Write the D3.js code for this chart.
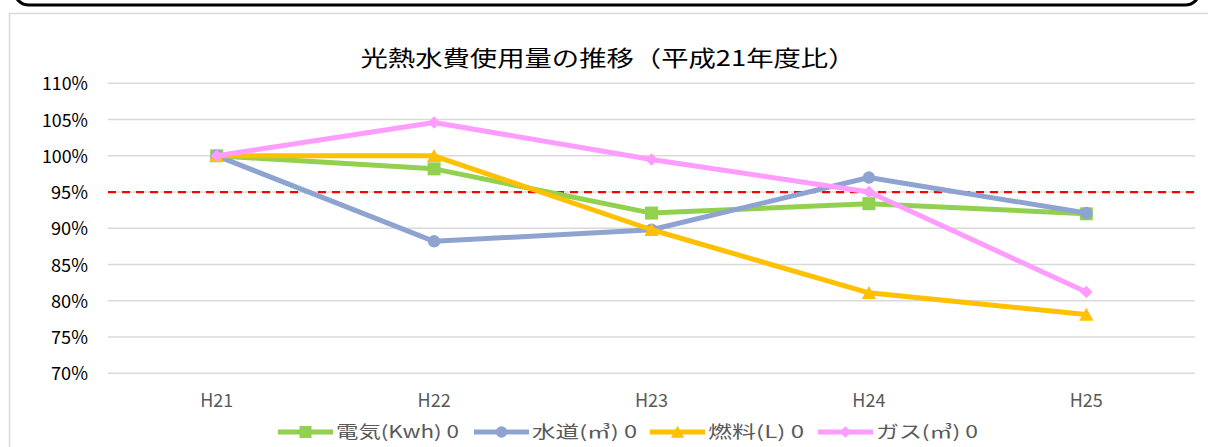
<!DOCTYPE html>
<html>
<head>
<meta charset="utf-8">
<script src="https://cdn.jsdelivr.net/npm/d3@7"></script>
<style>
  html, body { margin: 0; padding: 0; background: #fff; }
  svg { display: block; }
</style>
</head>
<body>
<svg id="chart" width="1208" height="447"></svg>
<script>
// Fiscal years (Heisei era)
const categories = ["H21", "H22", "H23", "H24", "H25"];

// Usage relative to FY H21 (%)
const electricity = [100, 98.2, 92.1, 93.4, 92.0];
const water       = [100, 88.2, 89.8, 97.0, 92.1];
const fuel        = [100, 100, 89.8, 81.1, 78.1];
const gas         = [100, 104.6, 99.5, 95.0, 81.2];

const seriesNames = ["電気(Kwh) 0", "水道(㎥) 0", "燃料(L) 0", "ガス(㎥) 0"];
const yTicks = [70, 75, 80, 85, 90, 95, 100, 105, 110];
const targetLine = 95;
const title = "光熱水費使用量の推移（平成21年度比）";

const series = [
  { name: seriesNames[0], values: electricity, color: "#92d050", marker: "square" },
  { name: seriesNames[1], values: water,       color: "#8fa3d1", marker: "circle" },
  { name: seriesNames[2], values: fuel,        color: "#ffc000", marker: "triangle" },
  { name: seriesNames[3], values: gas,         color: "#ff9cff", marker: "diamond" }
];

const svg = d3.select("#chart");
const font = "'Noto Sans CJK JP', 'Noto Sans', sans-serif";

// Frame of the panel above
svg.append("rect")
  .attr("x", 14).attr("y", -30).attr("width", 1186).attr("height", 35)
  .attr("rx", 15).attr("ry", 15)
  .attr("fill", "none").attr("stroke", "#000").attr("stroke-width", 3);

// Chart area border
svg.append("rect")
  .attr("x", 9.5).attr("y", 13.5).attr("width", 1210).attr("height", 450)
  .attr("fill", "#fff").attr("stroke", "#d9d9d9").attr("stroke-width", 1.5);

const plot = { left: 108, right: 1195, top: 83.3, bottom: 373.3 };

const x = d3.scaleBand().domain(categories).range([plot.left, plot.right]);
const y = d3.scaleLinear().domain([70, 110]).range([plot.bottom, plot.top]);
const cx = d => x(d) + x.bandwidth() / 2;

// Gridlines
svg.append("g")
  .selectAll("line").data(yTicks).join("line")
  .attr("x1", plot.left).attr("x2", plot.right)
  .attr("y1", d => y(d)).attr("y2", d => y(d))
  .attr("stroke", "#d9d9d9").attr("stroke-width", 1.5);

// Y axis labels
const yAxis = d3.axisLeft(y).tickValues(yTicks).tickFormat(d => d + "%").tickSize(0).tickPadding(0);
const gy = svg.append("g").attr("transform", `translate(${plot.left - 20},0)`).call(yAxis);
gy.select(".domain").remove();
gy.attr("font-family", null).attr("font-size", null);
gy.selectAll("text")
  .style("font-family", font).style("font-size", "18px").attr("fill", "#000")
  .attr("textLength", d => (d >= 100 ? 46 : 37)).attr("lengthAdjust", "spacingAndGlyphs")
  .attr("dy", "0.36em");

// X axis labels
const xAxis = d3.axisBottom(x).tickSize(0).tickPadding(0);
const gx = svg.append("g").attr("transform", `translate(0,${plot.bottom + 27})`).call(xAxis);
gx.select(".domain").remove();
gx.attr("font-family", null).attr("font-size", null);
gx.selectAll("text")
  .style("font-family", font).style("font-size", "18px").attr("fill", "#595959")
  .attr("dy", "0.36em");

// Target (95%) dashed line
svg.append("line")
  .attr("x1", plot.left).attr("x2", plot.right)
  .attr("y1", y(targetLine)).attr("y2", y(targetLine))
  .attr("stroke", "#ff0000").attr("stroke-width", 2.2)
  .attr("stroke-dasharray", "8,6");

// Marker shapes
function markerPath(type, size) {
  const s = size / 2;
  switch (type) {
    case "square":   return `M${-s},${-s}H${s}V${s}H${-s}Z`;
    case "circle":   return d3.symbol(d3.symbolCircle, Math.PI * s * s)();
    case "triangle": return `M0,${-s * 1.05}L${s * 1.1},${s * 0.95}L${-s * 1.1},${s * 0.95}Z`;
    case "diamond":  return `M0,${-s}L${s},0L0,${s}L${-s},0Z`;
  }
}
const markerSize = { square: 13, circle: 12.5, triangle: 13, diamond: 12.5 };

const line = d3.line().x((d, i) => cx(categories[i])).y(d => y(d));

series.forEach(s => {
  const g = svg.append("g");
  g.append("path")
    .datum(s.values)
    .attr("d", line)
    .attr("fill", "none")
    .attr("stroke", s.color)
    .attr("stroke-width", 5)
    .attr("stroke-linejoin", "round");
  g.selectAll("path.m").data(s.values).join("path")
    .attr("class", "m")
    .attr("transform", (d, i) => `translate(${cx(categories[i])},${y(d)})`)
    .attr("d", markerPath(s.marker, markerSize[s.marker]))
    .attr("fill", s.color);
});

// Title
svg.append("text")
  .attr("x", 608).attr("y", 66)
  .attr("text-anchor", "middle")
  .attr("font-family", font).attr("font-size", 22).attr("fill", "#000")
  .attr("textLength", 495).attr("lengthAdjust", "spacingAndGlyphs")
  .text(title);

// Legend
const legendItems = [
  { x: 278, tw: 123 },
  { x: 474, tw: 105 },
  { x: 650, tw: 96 },
  { x: 818, tw: 102 }
];
const ly = 432;
series.forEach((s, i) => {
  const lx = legendItems[i].x;
  const g = svg.append("g");
  g.append("line")
    .attr("x1", lx).attr("x2", lx + 55)
    .attr("y1", ly).attr("y2", ly)
    .attr("stroke", s.color).attr("stroke-width", 5);
  g.append("path")
    .attr("transform", `translate(${lx + 27.5},${ly})`)
    .attr("d", markerPath(s.marker, markerSize[s.marker] - 1))
    .attr("fill", s.color);
  g.append("text")
    .attr("x", lx + 58).attr("y", ly)
    .attr("dy", "0.36em")
    .attr("font-family", font).attr("font-size", 17).attr("fill", "#595959")
    .attr("textLength", legendItems[i].tw).attr("lengthAdjust", "spacingAndGlyphs")
    .text(s.name);
});
</script>
</body>
</html>
